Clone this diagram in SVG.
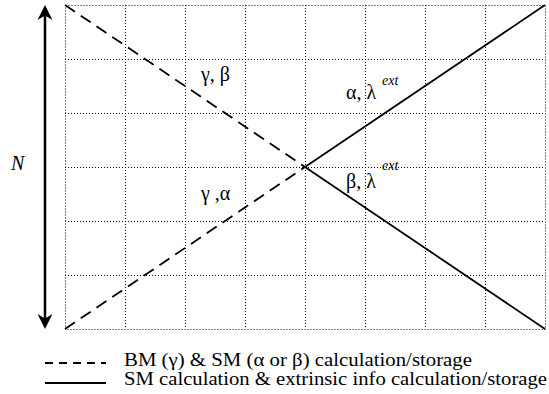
<svg xmlns="http://www.w3.org/2000/svg" width="549" height="394" viewBox="0 0 549 394" font-family="'Liberation Serif', 'Times New Roman', serif">
<style>
.grid{stroke:#000;stroke-width:1;stroke-dasharray:1 2;fill:none}
.dash{stroke:#000;stroke-width:1.8;stroke-dasharray:12 7;fill:none}
.solid{stroke:#000;stroke-width:1.8;fill:none}
.lbl{font-size:20px}
.sup{font-size:14px;font-style:italic}
.leg{font-size:18px}
</style>
<rect width="549" height="394" fill="#fff"/>
<g id="grid" class="grid">
<rect x="65.5" y="5.5" width="480" height="324"/>
<path d="M125.5 5V329M185.5 5V329M245.5 5V329M305.5 5V329M365.5 5V329M425.5 5V329M485.5 5V329"/>
<path d="M65 59.5H545M65 113.5H545M65 167.5H545M65 221.5H545M65 275.5H545"/>
</g>
<g id="connectors">
<path class="dash" d="M65 5L305 167"/>
<path class="dash" d="M65 329L305 167"/>
<path class="solid" d="M305 167L545 5"/>
<path class="solid" d="M305 167L545 329"/>
</g>
<g id="axis-N">
<line x1="45" y1="14" x2="45" y2="320" stroke="#000" stroke-width="2.5"/>
<path d="M45 5L52.5 20L45 15.5L37.5 20Z" fill="#000"/>
<path d="M45 329L52.5 314L45 318.5L37.5 314Z" fill="#000"/>
<text x="11" y="170" class="lbl" font-style="italic">N</text>
</g>
<g id="labels">
<text x="201" y="81" class="lbl">γ, β</text>
<text x="346" y="99" class="lbl">α, λ</text><text x="382" y="85" class="sup">ext</text>
<text x="346" y="188" class="lbl">β, λ</text><text x="382" y="170" class="sup">ext</text>
<text x="201" y="200" class="lbl">γ ,α</text>
</g>
<g id="legend">
<line x1="45" y1="363" x2="106" y2="363" stroke="#000" stroke-width="1.8" stroke-dasharray="8 6"/>
<line x1="45" y1="383" x2="106" y2="383" stroke="#000" stroke-width="1.8"/>
<text x="124" y="366" class="leg" textLength="348" lengthAdjust="spacingAndGlyphs">BM (γ) &amp; SM (α or β) calculation/storage</text>
<text x="124" y="385" class="leg" textLength="423" lengthAdjust="spacingAndGlyphs">SM calculation &amp; extrinsic info calculation/storage</text>
</g>
</svg>
